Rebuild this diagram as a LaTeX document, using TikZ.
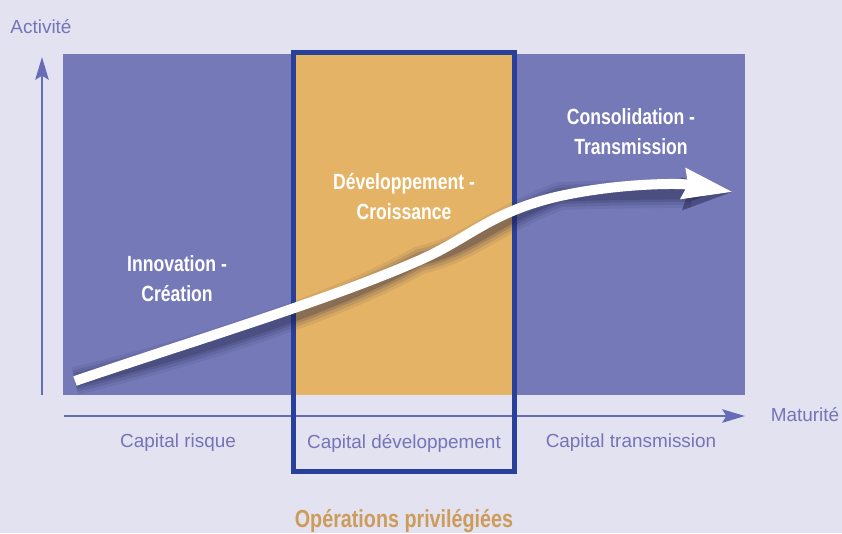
\documentclass[tikz,border=0pt]{standalone}
\usepackage{fontspec}
\setmainfont{Liberation Sans}
\newfontfamily\narrowfont[FakeStretch=0.8]{Liberation Sans}
\usetikzlibrary{arrows.meta,positioning}

\definecolor{bgcol}{HTML}{E3E2F0}
\definecolor{zonecol}{HTML}{7579B8}
\definecolor{devcol}{HTML}{E5B365}
\definecolor{framecol}{HTML}{29409A}
\definecolor{axiscol}{HTML}{676DB5}
\definecolor{txtcol}{HTML}{7474B8}
\definecolor{opscol}{HTML}{CD9B5A}
\definecolor{shadowcol}{HTML}{1A1A40}

\tikzset{
  zone/.style={fill=zonecol},
  axis/.style={draw=axiscol, line width=2pt, -{Stealth[length=17pt,width=10pt,inset=3pt]}},
  axislbl/.style={text=txtcol, inner sep=0pt, font=\fontsize{14.2}{17}\selectfont},
  phase/.style={text=white, inner sep=0pt, align=center, font=\narrowfont\bfseries\fontsize{16.5}{22.5}\selectfont},
  trend/.style={line width=7.5pt, -{Stealth[length=37pt,width=22pt,inset=3pt,fill=#1]}, draw=#1},
}

\begin{document}
\begin{tikzpicture}[x=0.75pt,y=-0.75pt]
   \useasboundingbox (0,0) rectangle (842,533);
   \fill[bgcol] (0,0) rectangle (842,533);

   % zones
   \fill[zone] (63,54) rectangle (745,395);
   \fill[devcol] (293,54) rectangle (515,395);

   % axes
   \coordinate (O1) at (42,395);
   \coordinate (Y) at (42,57);
   \coordinate (O2) at (64,416);
   \coordinate (X) at (745,416);
   \draw[axis] (O1) -- (Y);
   \draw[axis] (O2) -- (X);

   % operations privilegiees
   \draw[framecol, line width=3.75pt] (293.5,52.5) rectangle (514.5,471.5);

   % shadow then curve
   \coordinate (start) at (75,381);
   \coordinate (bend) at (420,260);
   \coordinate (knee) at (560,196);
   \coordinate (tip) at (733,192);
   \foreach \w/\o in {28/0.08, 22/0.11, 16/0.15, 11/0.2}{
      \draw[trend=shadowcol, line width=\w*0.75pt, opacity=\o, shift={(0,11)}]
         (start) .. controls (180,345) and (330,300) .. (bend)
         .. controls (470,238) and (490,212) .. (knee)
         .. controls (620,183) and (680,183) .. (tip);
   }
   \draw[trend=white]
      (start) .. controls (180,345) and (330,300) .. (bend)
      .. controls (470,238) and (490,212) .. (knee)
      .. controls (620,183) and (680,183) .. (tip);

   \node[axislbl] (act) at (41,27) {Activité};
   \node[axislbl] (mat) at (805,415) {Maturité};
   \node[axislbl] (risk) at (178,443) {Capital risque};
   \node[axislbl] (dev) at (404,443) {Capital développement};
   \node[axislbl] (trans) at (631,443) {Capital transmission};

   \node[phase] (crea) at (177,279) {Innovation -\\Création};
   \node[phase] (crois) at (404,197) {Développement -\\Croissance};
   \node[phase] (conso) at (631,132) {Consolidation -\\Transmission};

   \node[text=opscol, inner sep=0pt, anchor=base, font=\narrowfont\bfseries\fontsize{18.5}{22}\selectfont] (ops) at (404,527) {Opérations privilégiées};
\end{tikzpicture}
\end{document}
